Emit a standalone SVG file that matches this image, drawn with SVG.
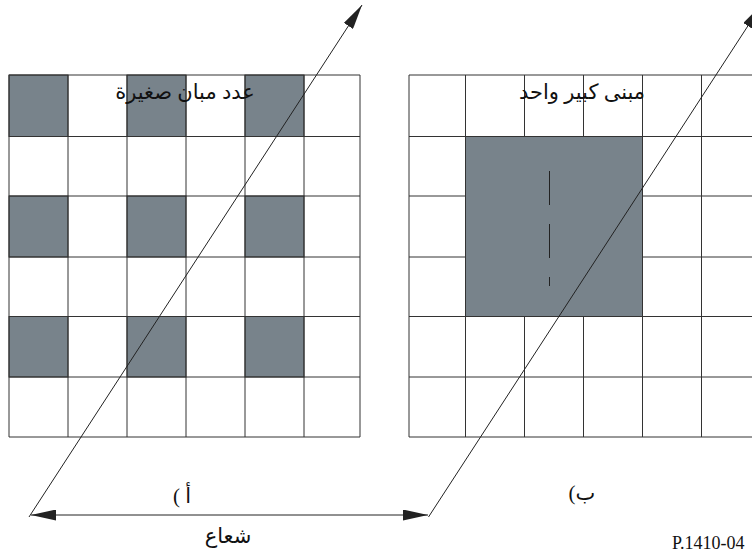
<svg xmlns="http://www.w3.org/2000/svg" width="752" height="552" viewBox="0 0 752 552">
  <style>
    .grid { fill: none; stroke: #333; stroke-width: 1; }
    .shade { fill: #78838b; stroke: #333; stroke-width: 1; }
    .ray { stroke: #222; stroke-width: 1; fill: none; }
    .ar { font-family: 'Liberation Serif', 'DejaVu Sans', serif; font-size: 21px; fill: #111; }
    .lat { font-family: 'Liberation Serif', 'Times New Roman', serif; font-size: 18px; fill: #111; }
  </style>
  <defs>
    <marker id="ah" markerUnits="userSpaceOnUse" viewBox="0 0 25 11" refX="25" refY="5.5" markerWidth="25" markerHeight="11" orient="auto-start-reverse">
      <path d="M0,0 L25,5.5 L0,11 z" fill="#222"/>
    </marker>
  </defs>

  <g id="grid-a">
    <rect class="shade" x="9" y="75" width="59" height="61.5"/>
    <rect class="shade" x="127" y="75" width="59" height="61.5"/>
    <rect class="shade" x="245" y="75" width="59" height="61.5"/>
    <rect class="shade" x="9" y="196" width="59" height="61"/>
    <rect class="shade" x="127" y="196" width="59" height="61"/>
    <rect class="shade" x="245" y="196" width="59" height="61"/>
    <rect class="shade" x="9" y="316.5" width="59" height="60.5"/>
    <rect class="shade" x="127" y="316.5" width="59" height="60.5"/>
    <rect class="shade" x="245" y="316.5" width="59" height="60.5"/>
    <path class="grid" d="M9,75 H360 M9,136.5 H360 M9,196 H360 M9,257 H360 M9,316.5 H360 M9,377 H360 M9,437 H360
      M9,75 V437 M68,75 V437 M127,75 V437 M186,75 V437 M245,75 V437 M304,75 V437 M360,75 V437"/>
    <text class="ar" x="185" y="99" text-anchor="middle" direction="rtl">عدد مبان صغيرة</text>
  </g>

  <g id="grid-b">
    <path class="grid" d="M409,75 H760 M409,136.5 H760 M409,196 H760 M409,257 H760 M409,316.5 H760 M409,377 H760 M409,437 H760
      M409,75 V437 M465.5,75 V437 M524.5,75 V437 M583.5,75 V437 M642.5,75 V437 M701.5,75 V437"/>
    <rect class="shade" x="465.5" y="136.5" width="177" height="180"/>
    <line x1="549.5" y1="171" x2="549.5" y2="286" stroke="#222" stroke-width="1" stroke-dasharray="34 19"/>
    <text class="ar" x="582" y="99" text-anchor="middle" direction="rtl">مبنى كبير واحد</text>
  </g>

  <g id="connectors">
    <line class="ray" x1="29" y1="517" x2="362" y2="5" marker-end="url(#ah)"/>
    <line class="ray" x1="428.5" y1="517" x2="761.5" y2="5" marker-end="url(#ah)"/>
    <line class="ray" x1="31" y1="515" x2="428" y2="515" marker-start="url(#ah)" marker-end="url(#ah)"/>
  </g>

  <g id="labels">
    <text class="ar" x="182" y="503" text-anchor="middle" direction="rtl">أ )</text>
    <text class="ar" x="582" y="500" text-anchor="middle" direction="rtl">ب)</text>
    <text class="ar" x="228" y="543" text-anchor="middle" direction="rtl">شعاع</text>
    <text class="lat" x="672" y="549">P.1410-04</text>
  </g>
</svg>
